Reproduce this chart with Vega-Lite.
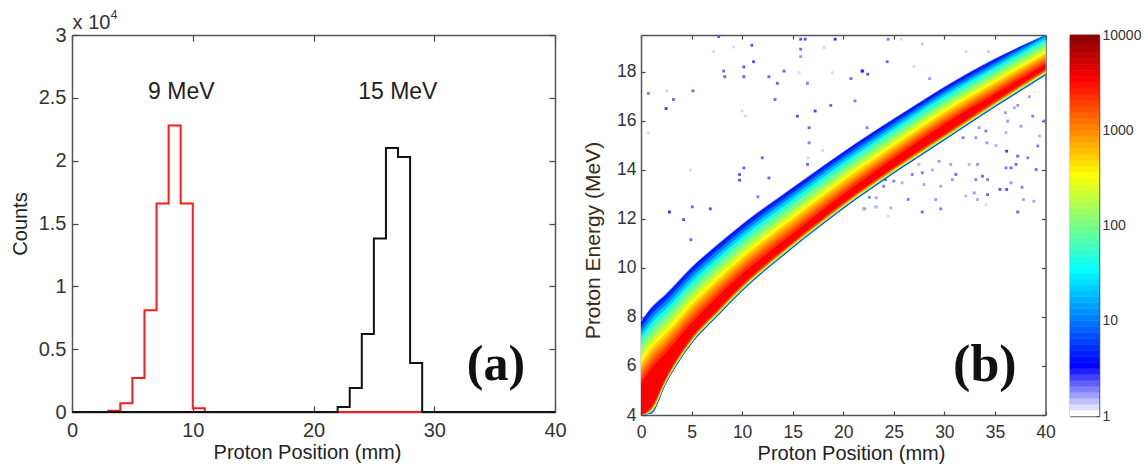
{
"$schema":"https://vega.github.io/schema/vega-lite/v6.json",
"background":"white",
"width":1146,"height":468,"autosize":"none","padding":0,
"config":{"font":"Liberation Sans","view":{"stroke":null},
"axis":{"labelFont":"Liberation Sans","titleFont":"Liberation Sans","titleFontWeight":"normal","labelColor":"#333333","titleColor":"#222222","domain":true,"domainColor":"#555555","domainWidth":1.5,"grid":false,"tickColor":"#444444","tickWidth":1.2,"labelFlush":false,"labelOverlap":false}},
"resolve":{"scale":{"x":"independent","y":"independent","fill":"independent","stroke":"independent"},"axis":{"x":"independent","y":"independent"}},
"datasets":{
"hist":[
{"s":"9 MeV","x":0,"c":0},{"s":"9 MeV","x":3,"c":0.01},{"s":"9 MeV","x":4,"c":0.07},{"s":"9 MeV","x":5,"c":0.27},{"s":"9 MeV","x":6,"c":0.81},{"s":"9 MeV","x":7,"c":1.66},{"s":"9 MeV","x":8,"c":2.28},{"s":"9 MeV","x":9,"c":1.66},{"s":"9 MeV","x":10,"c":0.03},{"s":"9 MeV","x":11,"c":0},{"s":"9 MeV","x":40,"c":0},
{"s":"15 MeV","x":0,"c":0},{"s":"15 MeV","x":22,"c":0.04},{"s":"15 MeV","x":23,"c":0.19},{"s":"15 MeV","x":24,"c":0.62},{"s":"15 MeV","x":25,"c":1.38},{"s":"15 MeV","x":26,"c":2.1},{"s":"15 MeV","x":27,"c":2.03},{"s":"15 MeV","x":28,"c":0.39},{"s":"15 MeV","x":29,"c":0},{"s":"15 MeV","x":40,"c":0}
],
"bands":[
{"n":1.5,"x":0,"t":7.85,"b":3.3},{"n":1.5,"x":1,"t":8.4,"b":4.05},{"n":1.5,"x":2.5,"t":8.98,"b":5.3},{"n":1.5,"x":5,"t":10.05,"b":6.9},{"n":1.5,"x":7.5,"t":10.95,"b":8.0},{"n":1.5,"x":10,"t":11.8,"b":9.05},{"n":1.5,"x":15,"t":13.3,"b":10.8},{"n":1.5,"x":20,"t":14.75,"b":12.4},{"n":1.5,"x":25,"t":16.1,"b":13.85},{"n":1.5,"x":30,"t":17.4,"b":15.2},{"n":1.5,"x":35,"t":18.55,"b":16.55},{"n":1.5,"x":40,"t":19.7,"b":17.85},
{"n":3,"x":0,"t":7.8,"b":3.31},{"n":3,"x":1,"t":8.35,"b":4.06},{"n":3,"x":2.5,"t":8.93,"b":5.31},{"n":3,"x":5,"t":10.01,"b":6.91},{"n":3,"x":7.5,"t":10.91,"b":8.01},{"n":3,"x":10,"t":11.76,"b":9.06},{"n":3,"x":15,"t":13.26,"b":10.81},{"n":3,"x":20,"t":14.72,"b":12.41},{"n":3,"x":25,"t":16.07,"b":13.86},{"n":3,"x":30,"t":17.37,"b":15.21},{"n":3,"x":35,"t":18.52,"b":16.56},{"n":3,"x":40,"t":19.67,"b":17.86},
{"n":5,"x":0,"t":7.69,"b":3.33},{"n":5,"x":1,"t":8.24,"b":4.08},{"n":5,"x":2.5,"t":8.83,"b":5.33},{"n":5,"x":5,"t":9.9,"b":6.93},{"n":5,"x":7.5,"t":10.81,"b":8.03},{"n":5,"x":10,"t":11.67,"b":9.08},{"n":5,"x":15,"t":13.18,"b":10.83},{"n":5,"x":20,"t":14.64,"b":12.43},{"n":5,"x":25,"t":16.0,"b":13.88},{"n":5,"x":30,"t":17.3,"b":15.23},{"n":5,"x":35,"t":18.46,"b":16.58},{"n":5,"x":40,"t":19.61,"b":17.88},
{"n":10,"x":0,"t":7.54,"b":3.34},{"n":10,"x":1,"t":8.09,"b":4.09},{"n":10,"x":2.5,"t":8.68,"b":5.34},{"n":10,"x":5,"t":9.77,"b":6.94},{"n":10,"x":7.5,"t":10.69,"b":8.04},{"n":10,"x":10,"t":11.55,"b":9.09},{"n":10,"x":15,"t":13.07,"b":10.84},{"n":10,"x":20,"t":14.53,"b":12.44},{"n":10,"x":25,"t":15.9,"b":13.89},{"n":10,"x":30,"t":17.21,"b":15.24},{"n":10,"x":35,"t":18.37,"b":16.59},{"n":10,"x":40,"t":19.53,"b":17.89},
{"n":20,"x":0,"t":7.35,"b":3.36},{"n":20,"x":1,"t":7.91,"b":4.11},{"n":20,"x":2.5,"t":8.51,"b":5.36},{"n":20,"x":5,"t":9.6,"b":6.96},{"n":20,"x":7.5,"t":10.53,"b":8.06},{"n":20,"x":10,"t":11.4,"b":9.11},{"n":20,"x":15,"t":12.93,"b":10.86},{"n":20,"x":20,"t":14.41,"b":12.46},{"n":20,"x":25,"t":15.78,"b":13.91},{"n":20,"x":30,"t":17.1,"b":15.26},{"n":20,"x":35,"t":18.27,"b":16.61},{"n":20,"x":40,"t":19.43,"b":17.91},
{"n":40,"x":0,"t":7.16,"b":3.37},{"n":40,"x":1,"t":7.73,"b":4.12},{"n":40,"x":2.5,"t":8.33,"b":5.37},{"n":40,"x":5,"t":9.43,"b":6.97},{"n":40,"x":7.5,"t":10.37,"b":8.07},{"n":40,"x":10,"t":11.25,"b":9.12},{"n":40,"x":15,"t":12.79,"b":10.87},{"n":40,"x":20,"t":14.28,"b":12.47},{"n":40,"x":25,"t":15.66,"b":13.92},{"n":40,"x":30,"t":16.99,"b":15.27},{"n":40,"x":35,"t":18.16,"b":16.62},{"n":40,"x":40,"t":19.33,"b":17.92},
{"n":70,"x":0,"t":6.97,"b":3.38},{"n":70,"x":1,"t":7.54,"b":4.13},{"n":70,"x":2.5,"t":8.15,"b":5.38},{"n":70,"x":5,"t":9.26,"b":6.98},{"n":70,"x":7.5,"t":10.21,"b":8.08},{"n":70,"x":10,"t":11.1,"b":9.13},{"n":70,"x":15,"t":12.65,"b":10.88},{"n":70,"x":20,"t":14.15,"b":12.48},{"n":70,"x":25,"t":15.54,"b":13.93},{"n":70,"x":30,"t":16.87,"b":15.28},{"n":70,"x":35,"t":18.05,"b":16.63},{"n":70,"x":40,"t":19.22,"b":17.93},
{"n":100,"x":0,"t":6.79,"b":3.39},{"n":100,"x":1,"t":7.36,"b":4.14},{"n":100,"x":2.5,"t":7.98,"b":5.39},{"n":100,"x":5,"t":9.1,"b":6.99},{"n":100,"x":7.5,"t":10.06,"b":8.09},{"n":100,"x":10,"t":10.95,"b":9.14},{"n":100,"x":15,"t":12.51,"b":10.89},{"n":100,"x":20,"t":14.02,"b":12.49},{"n":100,"x":25,"t":15.42,"b":13.94},{"n":100,"x":30,"t":16.76,"b":15.29},{"n":100,"x":35,"t":17.95,"b":16.64},{"n":100,"x":40,"t":19.12,"b":17.94},
{"n":170,"x":0,"t":6.57,"b":3.4},{"n":170,"x":1,"t":7.15,"b":4.15},{"n":170,"x":2.5,"t":7.77,"b":5.4},{"n":170,"x":5,"t":8.9,"b":7.0},{"n":170,"x":7.5,"t":9.87,"b":8.1},{"n":170,"x":10,"t":10.77,"b":9.15},{"n":170,"x":15,"t":12.34,"b":10.9},{"n":170,"x":20,"t":13.87,"b":12.5},{"n":170,"x":25,"t":15.28,"b":13.95},{"n":170,"x":30,"t":16.63,"b":15.3},{"n":170,"x":35,"t":17.82,"b":16.65},{"n":170,"x":40,"t":19.0,"b":17.95},
{"n":300,"x":0,"t":6.35,"b":3.42},{"n":300,"x":1,"t":6.94,"b":4.17},{"n":300,"x":2.5,"t":7.56,"b":5.42},{"n":300,"x":5,"t":8.71,"b":7.02},{"n":300,"x":7.5,"t":9.69,"b":8.12},{"n":300,"x":10,"t":10.6,"b":9.17},{"n":300,"x":15,"t":12.18,"b":10.92},{"n":300,"x":20,"t":13.72,"b":12.52},{"n":300,"x":25,"t":15.14,"b":13.97},{"n":300,"x":30,"t":16.5,"b":15.32},{"n":300,"x":35,"t":17.7,"b":16.67},{"n":300,"x":40,"t":18.88,"b":17.97},
{"n":500,"x":0,"t":6.1,"b":3.44},{"n":500,"x":1,"t":6.69,"b":4.19},{"n":500,"x":2.5,"t":7.33,"b":5.44},{"n":500,"x":5,"t":8.48,"b":7.04},{"n":500,"x":7.5,"t":9.48,"b":8.14},{"n":500,"x":10,"t":10.4,"b":9.19},{"n":500,"x":15,"t":12.0,"b":10.94},{"n":500,"x":20,"t":13.55,"b":12.54},{"n":500,"x":25,"t":14.98,"b":13.99},{"n":500,"x":30,"t":16.35,"b":15.34},{"n":500,"x":35,"t":17.56,"b":16.69},{"n":500,"x":40,"t":18.75,"b":17.99},
{"n":700,"x":0,"t":5.95,"b":3.45},{"n":700,"x":1,"t":6.54,"b":4.2},{"n":700,"x":2.5,"t":7.18,"b":5.45},{"n":700,"x":5,"t":8.34,"b":7.05},{"n":700,"x":7.5,"t":9.35,"b":8.15},{"n":700,"x":10,"t":10.28,"b":9.2},{"n":700,"x":15,"t":11.89,"b":10.95},{"n":700,"x":20,"t":13.44,"b":12.55},{"n":700,"x":25,"t":14.88,"b":14.0},{"n":700,"x":30,"t":16.25,"b":15.35},{"n":700,"x":35,"t":17.47,"b":16.7},{"n":700,"x":40,"t":18.66,"b":18.0},
{"n":1000,"x":0,"t":5.79,"b":3.47},{"n":1000,"x":1,"t":6.39,"b":4.22},{"n":1000,"x":2.5,"t":7.03,"b":5.47},{"n":1000,"x":5,"t":8.2,"b":7.07},{"n":1000,"x":7.5,"t":9.22,"b":8.17},{"n":1000,"x":10,"t":10.15,"b":9.22},{"n":1000,"x":15,"t":11.77,"b":10.97},{"n":1000,"x":20,"t":13.33,"b":12.57},{"n":1000,"x":25,"t":14.78,"b":14.02},{"n":1000,"x":30,"t":16.16,"b":15.37},{"n":1000,"x":35,"t":17.38,"b":16.72},{"n":1000,"x":40,"t":18.58,"b":18.02},
{"n":1400,"x":0,"t":5.63,"b":3.5},{"n":1400,"x":1,"t":6.24,"b":4.25},{"n":1400,"x":2.5,"t":6.88,"b":5.5},{"n":1400,"x":5,"t":8.06,"b":7.1},{"n":1400,"x":7.5,"t":9.08,"b":8.2},{"n":1400,"x":10,"t":10.03,"b":9.25},{"n":1400,"x":15,"t":11.65,"b":11.0},{"n":1400,"x":20,"t":13.22,"b":12.6},{"n":1400,"x":25,"t":14.68,"b":14.05},{"n":1400,"x":30,"t":16.06,"b":15.4},{"n":1400,"x":35,"t":17.29,"b":16.75},{"n":1400,"x":40,"t":18.5,"b":18.05},
{"n":2000,"x":0,"t":5.47,"b":3.52},{"n":2000,"x":1,"t":6.08,"b":4.27},{"n":2000,"x":2.5,"t":6.74,"b":5.52},{"n":2000,"x":5,"t":7.92,"b":7.12},{"n":2000,"x":7.5,"t":8.95,"b":8.22},{"n":2000,"x":10,"t":9.9,"b":9.27},{"n":2000,"x":15,"t":11.53,"b":11.02},{"n":2000,"x":20,"t":13.12,"b":12.62},{"n":2000,"x":25,"t":14.58,"b":14.07},{"n":2000,"x":30,"t":15.97,"b":15.42},{"n":2000,"x":35,"t":17.2,"b":16.77},{"n":2000,"x":40,"t":18.41,"b":18.07},
{"n":3162,"x":0,"t":5.29,"b":3.57},{"n":3162,"x":1,"t":5.9,"b":4.32},{"n":3162,"x":2.5,"t":6.56,"b":5.57},{"n":3162,"x":5,"t":7.75,"b":7.17},{"n":3162,"x":7.5,"t":8.8,"b":8.27},{"n":3162,"x":10,"t":9.75,"b":9.32},{"n":3162,"x":15,"t":11.39,"b":11.07},{"n":3162,"x":20,"t":12.99,"b":12.67},{"n":3162,"x":25,"t":14.46,"b":14.12},{"n":3162,"x":30,"t":15.86,"b":15.47},{"n":3162,"x":35,"t":17.09,"b":16.82},{"n":3162,"x":40,"t":18.31,"b":18.12}
],
"dots":[
{"x":7.68,"e":19.44,"n":2.2},{"x":10.96,"e":19.08,"n":2.2},{"x":11.13,"e":18.41,"n":2.2},{"x":15.79,"e":19.33,"n":2.2},{"x":16.23,"e":19.33,"n":2.2},{"x":15.79,"e":18.92,"n":2},{"x":15.79,"e":18.62,"n":1.6},{"x":19.2,"e":19.33,"n":2.6},{"x":8.18,"e":18.03,"n":2},{"x":10.17,"e":18.2,"n":2.2},{"x":14.14,"e":18.03,"n":2},{"x":8.28,"e":17.8,"n":2},{"x":10.17,"e":17.8,"n":2},{"x":12.65,"e":17.8,"n":2},{"x":13.48,"e":17.53,"n":2},{"x":21.92,"e":18.03,"n":2.6},{"x":22.42,"e":17.9,"n":2.2},{"x":20.76,"e":17.72,"n":2},{"x":16.46,"e":17.53,"n":1.8},{"x":0.73,"e":17.12,"n":1.8},{"x":5.13,"e":17.22,"n":2},{"x":2.48,"e":16.5,"n":2.4},{"x":3.21,"e":16.87,"n":2},{"x":13.25,"e":16.87,"n":2},{"x":18.77,"e":16.63,"n":2},{"x":21.16,"e":16.81,"n":1.8},{"x":15.46,"e":16.19,"n":2.2},{"x":17.22,"e":16.4,"n":2.4},{"x":16.62,"e":15.72,"n":2},{"x":16.62,"e":15.1,"n":1.8},{"x":11.99,"e":14.49,"n":2},{"x":10.17,"e":14.08,"n":2},{"x":9.74,"e":13.81,"n":2.2},{"x":9.74,"e":13.58,"n":2.2},{"x":12.65,"e":13.67,"n":2},{"x":16.46,"e":14.22,"n":2},{"x":11.56,"e":12.9,"n":1.8},{"x":2.81,"e":12.28,"n":2.6},{"x":4.21,"e":11.97,"n":2.2},{"x":5.07,"e":12.49,"n":2},{"x":6.85,"e":12.41,"n":2.2},{"x":4.93,"e":11.15,"n":2},{"x":22.35,"e":15.72,"n":1.8},{"x":22.09,"e":12.41,"n":1.8},{"x":23.25,"e":12.49,"n":1.8},{"x":22.58,"e":12.88,"n":1.8},{"x":23.25,"e":12.86,"n":1.5},
{"x":2.55,"e":17.22,"n":1.2},{"x":0.73,"e":15.51,"n":1.2},{"x":7.19,"e":18.82,"n":1.2},{"x":9.17,"e":19.01,"n":1.2},{"x":10,"e":16.4,"n":1.2},{"x":10.33,"e":16.19,"n":1.2},{"x":4.87,"e":13.99,"n":1.2},{"x":18.11,"e":18.99,"n":1.2},{"x":15.63,"e":17.96,"n":1.2},{"x":18.94,"e":17.96,"n":1.2},{"x":17.95,"e":14.79,"n":1.2},{"x":16.56,"e":14.49,"n":1.2},
{"x":24.44,"e":19.33,"n":1.8},{"x":25.76,"e":19.33,"n":1.2},{"x":27.81,"e":19.13,"n":1.3},{"x":24.34,"e":18.41,"n":2},{"x":21.85,"e":18.03,"n":2.6},{"x":26.99,"e":18.21,"n":1.2},{"x":28.54,"e":17.72,"n":1.6},{"x":32.12,"e":18.82,"n":1.2},{"x":34.37,"e":18.82,"n":1.3},
{"x":36.03,"e":16.33,"n":1.6},{"x":37.25,"e":16.63,"n":1.6},{"x":36.26,"e":15.99,"n":1.6},{"x":37.58,"e":15.78,"n":1.6},{"x":33.44,"e":15.72,"n":1.6},{"x":33.11,"e":15.31,"n":1.6},{"x":31.85,"e":15.31,"n":1.8},{"x":34.1,"e":15.58,"n":1.8},{"x":34.2,"e":15.1,"n":1.6},{"x":35.1,"e":14.99,"n":1.4},{"x":36.16,"e":14.76,"n":2.4},{"x":36.09,"e":15.52,"n":1.4},{"x":38.74,"e":16.19,"n":1.8},{"x":39.4,"e":15.38,"n":1.4},{"x":39.24,"e":14.97,"n":1.8},{"x":38.25,"e":14.49,"n":1.8},{"x":39.07,"e":14.01,"n":2},{"x":37.25,"e":14.56,"n":2},{"x":36.59,"e":14.08,"n":2},{"x":37.09,"e":14.22,"n":2},{"x":36.09,"e":14.08,"n":1.8},{"x":39.9,"e":15.99,"n":2},{"x":38.41,"e":16.98,"n":1.5},{"x":36.92,"e":16.53,"n":1.5},
{"x":33.28,"e":14.22,"n":1.6},{"x":32.45,"e":14.22,"n":1.4},{"x":30.63,"e":14.22,"n":1.5},{"x":29.47,"e":14.35,"n":1.6},{"x":27.48,"e":14.22,"n":1.4},{"x":26.82,"e":13.81,"n":1.8},{"x":25.83,"e":13.47,"n":1.4},{"x":25,"e":13.54,"n":1.8},{"x":24.17,"e":13.6,"n":2},{"x":24,"e":13.33,"n":1.8},{"x":27.81,"e":13.88,"n":1.8},{"x":28.81,"e":13.99,"n":1.5},{"x":31.13,"e":13.81,"n":2},{"x":30.79,"e":13.6,"n":1.6},{"x":29.64,"e":13.33,"n":1.5},{"x":27.98,"e":13.4,"n":1.5},{"x":33.11,"e":13.6,"n":1.8},{"x":33.77,"e":13.74,"n":2},{"x":34.27,"e":13.6,"n":1.8},{"x":34.27,"e":12.99,"n":2},{"x":32.95,"e":13.06,"n":1.6},{"x":32.12,"e":12.93,"n":1.4},{"x":35.5,"e":13.2,"n":2.2},{"x":36.16,"e":13.2,"n":2.2},{"x":36.59,"e":13.47,"n":1.6},{"x":37.68,"e":13.29,"n":1.8},{"x":37.82,"e":12.79,"n":1.5},{"x":38.84,"e":12.72,"n":1.5},{"x":37.25,"e":12.28,"n":2},{"x":27.81,"e":12.28,"n":2},{"x":29.64,"e":12.41,"n":1.8},{"x":29.14,"e":12.79,"n":1.6},{"x":33.28,"e":12.79,"n":1.5},{"x":34.1,"e":12.58,"n":1.2},{"x":26.42,"e":12.79,"n":1.8},{"x":24.44,"e":12.11,"n":1.2},{"x":24.7,"e":12.45,"n":1.4},{"x":23.18,"e":12.49,"n":1.3},{"x":22.02,"e":12.41,"n":1.5}
],
"bar":[
{"lo":1,"hi":1.155},{"lo":1.155,"hi":1.334},{"lo":1.334,"hi":1.54},{"lo":1.54,"hi":1.778},{"lo":1.778,"hi":2.054},{"lo":2.054,"hi":2.371},{"lo":2.371,"hi":2.738},{"lo":2.738,"hi":3.162},{"lo":3.162,"hi":3.652},{"lo":3.652,"hi":4.217},{"lo":4.217,"hi":4.87},{"lo":4.87,"hi":5.623},{"lo":5.623,"hi":6.494},{"lo":6.494,"hi":7.499},{"lo":7.499,"hi":8.66},{"lo":8.66,"hi":10},
{"lo":10,"hi":11.55},{"lo":11.55,"hi":13.34},{"lo":13.34,"hi":15.4},{"lo":15.4,"hi":17.78},{"lo":17.78,"hi":20.54},{"lo":20.54,"hi":23.71},{"lo":23.71,"hi":27.38},{"lo":27.38,"hi":31.62},{"lo":31.62,"hi":36.52},{"lo":36.52,"hi":42.17},{"lo":42.17,"hi":48.7},{"lo":48.7,"hi":56.23},{"lo":56.23,"hi":64.94},{"lo":64.94,"hi":74.99},{"lo":74.99,"hi":86.6},{"lo":86.6,"hi":100},
{"lo":100,"hi":115.5},{"lo":115.5,"hi":133.4},{"lo":133.4,"hi":154},{"lo":154,"hi":177.8},{"lo":177.8,"hi":205.4},{"lo":205.4,"hi":237.1},{"lo":237.1,"hi":273.8},{"lo":273.8,"hi":316.2},{"lo":316.2,"hi":365.2},{"lo":365.2,"hi":421.7},{"lo":421.7,"hi":487},{"lo":487,"hi":562.3},{"lo":562.3,"hi":649.4},{"lo":649.4,"hi":749.9},{"lo":749.9,"hi":866},{"lo":866,"hi":1000},
{"lo":1000,"hi":1155},{"lo":1155,"hi":1334},{"lo":1334,"hi":1540},{"lo":1540,"hi":1778},{"lo":1778,"hi":2054},{"lo":2054,"hi":2371},{"lo":2371,"hi":2738},{"lo":2738,"hi":3162},{"lo":3162,"hi":3652},{"lo":3652,"hi":4217},{"lo":4217,"hi":4870},{"lo":4870,"hi":5623},{"lo":5623,"hi":6494},{"lo":6494,"hi":7499},{"lo":7499,"hi":8660},{"lo":8660,"hi":10000}
]
},
"layer":[
{"data":{"name":"hist"},"transform":[{"filter":"datum.s=='9 MeV'"}],
 "mark":{"type":"line","interpolate":"step-after","stroke":"#ff1a1a","strokeWidth":2,"clip":false},
 "encoding":{
 "x":{"field":"x","type":"quantitative","scale":{"domain":[0,40],"nice":false,"range":[72,555]},"title":"Proton Position (mm)",
  "axis":{"orient":"bottom","offset":-56,"values":[0,10,20,30,40],"tickSize":-6,"labelPadding":14,"labelFontSize":20,"titleFontSize":20,"titlePadding":2,"titleX":307}},
 "y":{"field":"c","type":"quantitative","scale":{"domain":[0,3],"nice":false,"range":[412,35]},"title":"Counts",
  "axis":{"orient":"left","offset":-72,"values":[0,0.5,1,1.5,2,2.5,3],"format":"~g","tickSize":-6,"labelPadding":12,"labelFontSize":20,"titleFontSize":20,"titlePadding":8}}}},
{"data":{"name":"hist"},"transform":[{"filter":"datum.s=='15 MeV'"}],
 "mark":{"type":"line","interpolate":"step-after","stroke":"#111111","strokeWidth":2,"clip":false},
 "encoding":{
 "x":{"field":"x","type":"quantitative","scale":{"domain":[0,40],"nice":false,"range":[72,555]},"title":null,"axis":{"orient":"top","offset":-35,"values":[0,10,20,30,40],"tickSize":-6,"labels":false}},
 "y":{"field":"c","type":"quantitative","scale":{"domain":[0,3],"nice":false,"range":[412,35]},"title":null,"axis":{"orient":"right","offset":-591,"values":[0,0.5,1,1.5,2,2.5,3],"tickSize":-6,"labels":false}}}},
{"data":{"values":[{"x":6.3,"c":2.55,"t":"9 MeV"},{"x":23.7,"c":2.55,"t":"15 MeV"}]},
 "mark":{"type":"text","align":"left","baseline":"middle","fontSize":23,"font":"Liberation Sans","fill":"#222222"},
 "encoding":{"x":{"field":"x","type":"quantitative","scale":{"domain":[0,40],"nice":false,"range":[72,555]},"axis":null},"y":{"field":"c","type":"quantitative","scale":{"domain":[0,3],"nice":false,"range":[412,35]},"axis":null},"text":{"field":"t"}}},
{"data":{"values":[{"x":0.05,"c":3.095,"t":"x 10"}]},
 "mark":{"type":"text","align":"left","baseline":"middle","fontSize":20,"font":"Liberation Sans","fill":"#333333"},
 "encoding":{"x":{"field":"x","type":"quantitative","scale":{"domain":[0,40],"nice":false,"range":[72,555]},"axis":null},"y":{"field":"c","type":"quantitative","scale":{"domain":[0,3],"nice":false,"range":[412,35]},"axis":null},"text":{"field":"t"}}},
{"data":{"values":[{"x":3.2,"c":3.16,"t":"4"}]},
 "mark":{"type":"text","align":"left","baseline":"middle","fontSize":12,"font":"Liberation Sans","fill":"#333333"},
 "encoding":{"x":{"field":"x","type":"quantitative","scale":{"domain":[0,40],"nice":false,"range":[72,555]},"axis":null},"y":{"field":"c","type":"quantitative","scale":{"domain":[0,3],"nice":false,"range":[412,35]},"axis":null},"text":{"field":"t"}}},
{"data":{"values":[{"x":32.7,"c":0.374,"t":"(a)"}]},
 "mark":{"type":"text","align":"left","baseline":"middle","fontSize":50,"font":"Liberation Serif","fontWeight":"bold","fill":"#111111"},
 "encoding":{"x":{"field":"x","type":"quantitative","scale":{"domain":[0,40],"nice":false,"range":[72,555]},"axis":null},"y":{"field":"c","type":"quantitative","scale":{"domain":[0,3],"nice":false,"range":[412,35]},"axis":null},"text":{"field":"t"}}},
{"data":{"name":"dots"},
 "mark":{"type":"square","size":8,"opacity":1},
 "encoding":{
 "x":{"field":"x","type":"quantitative","scale":{"domain":[0,40],"nice":false,"range":[641,1045.5]},"title":"Proton Position (mm)",
  "axis":{"orient":"bottom","offset":-53,"values":[0,5,10,15,20,25,30,35,40],"tickSize":-4,"labelPadding":12,"labelFontSize":17.5,"titleFontSize":20,"titlePadding":3,"titleX":851}},
 "y":{"field":"e","type":"quantitative","scale":{"domain":[4,19.5],"nice":false,"range":[415,35]},"title":"Proton Energy (MeV)",
  "axis":{"orient":"left","offset":-641,"values":[4,6,8,10,12,14,16,18],"tickSize":-4,"labelPadding":9,"labelFontSize":17.5,"titleFontSize":21,"titlePadding":13,"titleColor":"#3a2a1a","titleY":240}},
 "fill":{"field":"n","type":"quantitative","legend":null,"scale":{"type":"log","domain":[1,3.162,31.62,316.2,3162,10000],"range":["#ffffff","#0000ff","#00ffff","#ffff00","#ff0000","#800000"],"interpolate":"rgb"}}}},
{"data":{"name":"bands"},
 "mark":{"type":"area","interpolate":"monotone"},
 "encoding":{
 "x":{"field":"x","type":"quantitative","scale":{"domain":[0,40],"nice":false,"range":[641,1045.5]},"title":null,"axis":{"orient":"top","offset":-35,"values":[0,5,10,15,20,25,30,35,40],"tickSize":-4,"labels":false}},
 "y":{"field":"t","type":"quantitative","scale":{"domain":[4,19.5],"nice":false,"clamp":true,"range":[415,35]},"title":null,"axis":{"orient":"right","offset":-100.5,"values":[4,6,8,10,12,14,16,18],"tickSize":-4,"labels":false}},
 "y2":{"field":"b"},
 "detail":{"field":"n"},
 "fill":{"field":"n","type":"quantitative","legend":null,"scale":{"type":"log","domain":[1,3.162,31.62,316.2,3162,10000],"range":["#ffffff","#0000ff","#00ffff","#ffff00","#ff0000","#800000"],"interpolate":"rgb"}}}},
{"data":{"values":[{"x":30.86,"e":6.04,"t":"(b)"}]},
 "mark":{"type":"text","align":"left","baseline":"middle","fontSize":52,"font":"Liberation Serif","fontWeight":"bold","fill":"#111111"},
 "encoding":{"x":{"field":"x","type":"quantitative","scale":{"domain":[0,40],"nice":false,"range":[641,1045.5]},"axis":null},"y":{"field":"e","type":"quantitative","scale":{"domain":[4,19.5],"nice":false,"range":[415,35]},"axis":null},"text":{"field":"t"}}},
{"data":{"name":"bar"},
 "mark":{"type":"rect","strokeWidth":0.6},
 "encoding":{
 "x":{"datum":0,"type":"quantitative","scale":{"domain":[0,1],"range":[1070,1099]},"title":null,"axis":{"orient":"bottom","offset":-52,"ticks":false,"labels":false}},
 "x2":{"datum":1},
 "y":{"field":"lo","type":"quantitative","scale":{"type":"log","domain":[1,10000],"nice":false,"range":[416,35]},"title":null,
  "axis":{"orient":"right","offset":-47,"values":[1,3.162,10,31.62,100,316.2,1000,3162,10000],"labelExpr":"datum.value==1||datum.value==10||datum.value==100||datum.value==1000||datum.value==10000?format(datum.value,'d'):''","tickSize":-3,"tickColor":"#111111","labelPadding":6,"labelFontSize":14}},
 "y2":{"field":"hi"},
 "fill":{"field":"lo","type":"quantitative","legend":null,"scale":{"type":"log","domain":[1,3.162,31.62,316.2,3162,10000],"range":["#ffffff","#0000ff","#00ffff","#ffff00","#ff0000","#800000"],"interpolate":"rgb"}},
 "stroke":{"field":"lo","type":"quantitative","legend":null,"scale":{"type":"log","domain":[1,3.162,31.62,316.2,3162,10000],"range":["#ffffff","#0000ff","#00ffff","#ffff00","#ff0000","#800000"],"interpolate":"rgb"}}}},
{"data":{"name":"bar"},
 "mark":{"type":"rule","opacity":0},
 "encoding":{
 "x":{"datum":0,"type":"quantitative","scale":{"domain":[0,1],"range":[1070,1099]},"title":null,"axis":{"orient":"top","offset":-35,"ticks":false,"labels":false}},
 "y":{"field":"lo","type":"quantitative","scale":{"type":"log","domain":[1,10000],"nice":false,"range":[416,35]},"title":null,
  "axis":{"orient":"left","offset":-1070,"values":[3.162,10,31.62,100,316.2,1000,3162],"tickSize":-3,"tickColor":"#111111","labels":false}}}}
]}
